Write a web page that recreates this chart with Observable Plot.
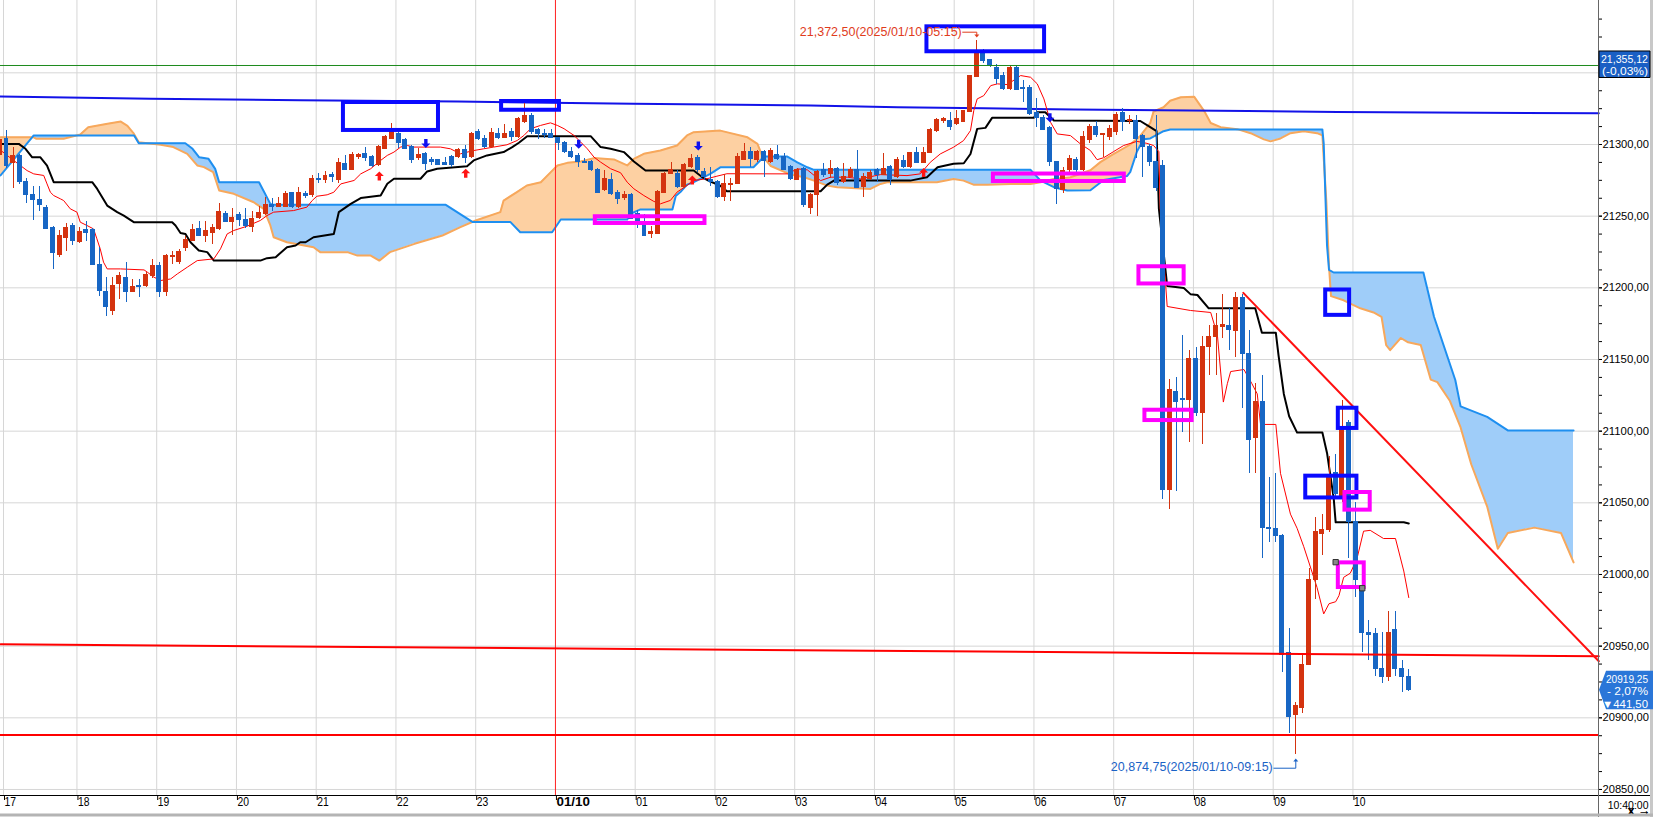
<!DOCTYPE html>
<html><head><meta charset="utf-8">
<script src="https://cdn.jsdelivr.net/npm/d3@7"></script>
<script src="https://cdn.jsdelivr.net/npm/@observablehq/plot@0.6"></script>
<style>
html,body{margin:0;padding:0;background:#fff;}
#chart{width:1653px;height:817px;overflow:hidden;}
#chart svg{display:block;overflow:visible;}
</style></head><body><div id="chart"></div>
<script>
// ---------------- DATA ----------------
// x unit = one 5-minute candle; candle k is drawn at x = k (k = 0 is the 17:00 candle of 01/09)
const hourLabels = ["17","18","19","20","21","22","23","01/10","01","02","03","04","05","06","07","08","09","10"];
const lastTimeLabel = "10:40:00";

const opens = [21293,21304,21287,21292,21274,21265,21261.5,21256,21242,21223,21234.5,21243,21232,21240,21240,21216,21197,21184,21202.5,21207,21197,21201.5,21201,21208,21215.5,21197,21221.5,21218,21227.5,21233,21241,21236,21238,21241,21251.5,21246,21250.5,21247,21242.5,21248.5,21251.5,21258,21256.5,21256.5,21266.5,21256.5,21265.5,21264.5,21276,21275,21278.5,21275.5,21286.5,21282.5,21291,21293.5,21291,21285.5,21297,21304,21307.5,21303,21298,21290.5,21293.5,21289,21289,21287,21291,21291,21296,21291,21309,21303.5,21298,21307.5,21304.5,21309,21305,21315.5,21320,21310,21307.5,21307,21304.5,21301,21295,21292,21288,21287.5,21282.5,21268,21275,21266.5,21262.5,21264.5,21251.5,21243.5,21237.5,21237.5,21266.5,21279.5,21279.5,21270.5,21284,21290.5,21281,21275.5,21274,21263.5,21271.5,21272.5,21289,21294.5,21289,21294.5,21287.5,21293,21291,21284,21275.5,21283,21256,21264.5,21282.5,21279.5,21283,21273.5,21277.5,21282.5,21270.5,21276,21282,21279,21284,21277.5,21288.5,21284,21294,21287,21294,21309.5,21316.5,21316.5,21314,21316,21323,21347,21363,21359,21353.5,21347.5,21339,21353.5,21339.5,21339.5,21322,21318.5,21311.5,21287.5,21268.5,21282,21289.5,21282.5,21303,21312.5,21306.5,21305,21308.5,21322,21316.5,21316.5,21306,21298.5,21288,21285,21059,21127.5,21122.5,21121.5,21150.5,21113,21158.5,21166,21172.5,21173.5,21170,21193,21153.5,21095.5,21120.5,21032.5,21031.5,21027,20945.5,20902,20907,20937,20996.5,21028,21031,21071,21053.5,21106,21036.5,20991,20959.5,20958.5,20934,20928.5,20961,20934,20928.5];
const highs = [21312,21310,21298,21293,21276,21271,21271,21257.5,21243,21240,21245,21245,21242,21246,21241.5,21228,21207,21207,21211,21217.5,21206,21206,21211,21219.5,21218,21223.5,21225.5,21226.5,21235.5,21244.5,21246,21246.5,21244.5,21258.5,21253,21255,21252.5,21255,21253,21256.5,21263,21262,21263,21267,21266.5,21270,21267,21278.5,21279.5,21281,21280.5,21290.5,21292.5,21294.5,21293.5,21298,21292.5,21299,21306.5,21315,21308.5,21304,21299.5,21297,21294.5,21291,21289.5,21291,21292.5,21297.5,21299,21308.5,21310.5,21306.5,21311.5,21311.5,21314,21311,21318.5,21328.5,21321.5,21311.5,21310.5,21310.5,21305,21302,21298,21293.5,21290,21289,21283,21282,21279.5,21268,21267,21265.5,21254,21251.5,21242.5,21268,21280.5,21287.5,21282,21286.5,21293,21292.5,21283,21284,21275,21279,21276,21293.5,21300.5,21298,21296,21296,21297,21299.5,21294,21285.5,21283,21284,21265.5,21282,21286.5,21289,21284,21286.5,21284,21296,21279.5,21282,21283,21293.5,21285.5,21291,21292.5,21294.5,21298,21298,21311,21318,21318.5,21322.5,21323.5,21324,21348,21372.5,21366.5,21359.5,21356,21350.5,21355,21355,21345,21341,21332,21320,21312.5,21288,21284,21292,21291,21309,21314,21316,21308,21313,21322,21325,21320,21320,21307,21300,21320,21289,21136,21137.5,21167,21156,21158.5,21166,21173.5,21182,21195.5,21185.5,21197,21195.5,21170,21133,21139,21067.5,21070.5,21028,20962.5,20911,20945,21004,21039.5,21042,21082,21083.5,21121.5,21107.5,21050.5,20991,20968,20962.5,20959.5,20974.5,20974.5,20940,20933.5];
const lows = [21288,21283,21269,21272,21259,21247,21253,21240.5,21213,21221,21225,21229.5,21231,21232,21216,21194,21180,21181,21192,21189.5,21196.5,21193.5,21200.5,21206.5,21193.5,21194,21216,21216.5,21225,21232,21236,21231.5,21230.5,21240,21245.5,21236.5,21242.5,21241.5,21238.5,21248,21250.5,21253,21256,21256,21255.5,21255.5,21262.5,21263,21272.5,21273,21273.5,21273,21282,21282,21289.5,21288,21284,21285,21296.5,21303.5,21297,21296.5,21286.5,21289,21282,21285.5,21285.5,21285.5,21284,21290.5,21287,21290.5,21303,21297,21297.5,21303.5,21304,21302,21304.5,21314.5,21307,21303.5,21304.5,21304,21296,21293.5,21290.5,21284,21286.5,21281,21265.5,21267,21264.5,21258,21261,21247.5,21241.5,21235.5,21234.5,21237,21265.5,21279,21269.5,21269.5,21283,21280.5,21275,21270.5,21262.5,21260,21260,21272,21288.5,21284,21287.5,21277,21287,21288.5,21282,21275,21275,21256,21251.5,21249.5,21277,21276,21271.5,21272.5,21277,21269.5,21263,21275,21273.5,21278.5,21271.5,21276.5,21283.5,21283.5,21286.5,21286.5,21293.5,21308.5,21314.5,21309.5,21313,21315.5,21322.5,21346.5,21356.5,21353.5,21342,21338,21338,21337.5,21329.5,21320,21312,21309.5,21285,21258,21266,21280,21280,21281,21301,21305,21291,21303,21306,21309,21314,21290,21277,21285,21267,21052,21045,21058,21099,21092,21110,21090.5,21139,21139,21164.5,21156,21151.5,21116,21070.5,21070.5,21011,21022,21022,20931.5,20889,20874.75,20903,20936.5,20982.5,21013.5,21029.5,21053.5,21050,21011,20984,20945.5,20940,20928.5,20924,20925.5,20928.5,20917.5,20918.5];
const closes = [21303,21285,21292,21274,21265,21261,21258,21241,21224.5,21236,21241.5,21233,21239,21238,21216,21197.5,21186.5,21201.5,21208.5,21197,21200.5,21200.5,21209,21215.5,21197,21222.5,21222.5,21225,21233.5,21240.5,21236,21239.5,21241.5,21253,21246,21249,21247,21243,21248,21252.5,21258,21256.5,21258.5,21265.5,21256.5,21266.5,21264,21276,21275.5,21278,21277,21287,21282.5,21293,21293,21290.5,21285,21298,21305,21311,21301,21297,21289.5,21292.5,21286.5,21287.5,21286,21286,21286,21296,21290.5,21307.5,21303.5,21298,21308,21304.5,21307.5,21305,21318,21320,21308.5,21307.5,21306.5,21304.5,21301,21294.5,21291,21287.5,21287,21282,21266.5,21276,21265.5,21262,21265,21248,21246,21236,21239,21267,21279.5,21282,21270.5,21285.5,21290,21282,21277,21274,21263.5,21272.5,21272.5,21291,21294.5,21290,21294.5,21288.5,21295.5,21290,21282.5,21276,21282,21257.5,21264.5,21280.5,21279,21283,21273,21277,21282.5,21270,21277.5,21280,21279,21283,21275.5,21289,21284,21294,21287,21294,21310,21317,21317.5,21312.5,21318,21323.5,21347.5,21365,21358,21354.5,21346,21339,21353.5,21338,21339,21321,21318.5,21310,21287.5,21269,21281.5,21290,21282.5,21305,21312,21306.5,21307,21311,21320.5,21315.5,21317,21304,21298,21288,21270,21059,21129,21120.5,21121.5,21150,21112.5,21158.5,21166,21173.5,21174,21170.5,21193,21153.5,21094,21120.5,21032.5,21031.5,21027,20944,20900.5,20908,20937,20996.5,21029.5,21031,21067.5,21056.5,21100.5,21036.5,20996.5,20959.5,20957.5,20934,20928.5,20959.5,20934,20928.5,20919.25];

// Ichimoku lines, read as [x, value] vertices
const tenkan = [[0.1,21296],[2.1,21288.8],[3.1,21285.3],[4.1,21281.8],[5.1,21279.5],[6.6,21278.4],[7.1,21272.5],[7.6,21266.7],[8.1,21264.4],[9.1,21262.1],[9.6,21260.9],[10.6,21255.1],[11.6,21252.8],[12.1,21245.8],[13.1,21243.5],[14.1,21241.1],[14.6,21234.2],[15.1,21227.2],[15.6,21217.9],[16.15,21213.2],[18.15,21213.2],[21.7,21212.5],[22.2,21210.9],[23.2,21207.4],[24.2,21205.1],[25.7,21206.2],[26.7,21209.7],[28.2,21214.4],[29.7,21219],[32.2,21220.2],[33.2,21227.2],[34.2,21237.6],[35.2,21240],[37.2,21243],[39.2,21247],[40.2,21250.4],[41.2,21252.8],[44.2,21253.9],[46.2,21256.3],[47,21260.9],[47.7,21263.9],[49.25,21264.9],[50.25,21266.7],[51.3,21272.5],[53.3,21274.9],[54.3,21279.5],[55.8,21283.1],[57.3,21288.9],[58.3,21292.4],[59.3,21294.7],[60.3,21298.2],[61.3,21299.3],[62.3,21298.2],[66.3,21298.2],[67.8,21297],[69.3,21293.5],[71.3,21295.8],[72.8,21297],[74.3,21298.2],[76.3,21299.8],[77.85,21302.8],[78.85,21306.3],[79.85,21311],[81.35,21313.3],[82.85,21315.1],[83.9,21313.3],[84.9,21311],[86.4,21306.3],[87.4,21301.7],[88.4,21297],[89.4,21291.2],[90.4,21287.7],[91.9,21283.1],[93.4,21280.3],[94.4,21273.7],[95.4,21269.1],[96.9,21264.4],[98.4,21260.3],[99.4,21258.6],[100.9,21261],[101.9,21266.8],[103.4,21271.4],[104.4,21274.9],[106.4,21276.1],[107.9,21277.9],[109.4,21279.6],[118.5,21279.5],[120,21283],[121.5,21282.3],[123.5,21274.8],[125,21277.2],[127.5,21277.2],[129.5,21276],[132.5,21279],[136.5,21278.3],[138.5,21279.5],[140,21287.6],[141.5,21293.4],[143.5,21298.1],[145,21302.7],[146.05,21309.7],[146.55,21323.7],[147.06,21331.8],[148.05,21334.1],[149.1,21341.1],[150.1,21342.3],[151.6,21341.8],[153.6,21348.1],[155.1,21346.9],[156.1,21342.3],[157.1,21331.8],[157.6,21323.7],[158.1,21315.5],[159.1,21307.4],[161.1,21306.2],[162.6,21300.4],[164.1,21295.8],[165.1,21289.4],[166.1,21290.8],[167.6,21295.1],[169.1,21299.3],[171.1,21302.2],[172.6,21300.8],[173.6,21299.3],[174.4,21295],[174.6,21255],[175.65,21187],[179.15,21184.2],[182.2,21182.8],[183.2,21167.2],[184.1,21120.3],[184.7,21133.1],[185.2,21141.6],[187.2,21143],[188.4,21133.1],[189.2,21126],[189.7,21104.7],[192,21104.7],[192.7,21070.6],[194.2,21042.1],[195.2,21032.2],[196.2,21019.4],[197.2,21005.2],[198.2,20990.9],[199.2,20972.5],[200,20979.6],[201,20981],[201.5,20985.3],[202.2,20998],[203.2,21000.9],[204.2,21010.9],[205.2,21030.2],[206.2,21030.8],[208.2,21025.1],[210,21025.1],[211.25,21002.4],[212,20983.9]];
const kijun = [[0.1,21300.4],[2.85,21300.4],[3.86,21297],[4.87,21291.1],[6.1,21291.1],[7.1,21285.3],[8.1,21273.7],[13.9,21273.7],[14.65,21269],[16.15,21257.4],[17.66,21252.8],[18.65,21250.4],[20.15,21245.8],[25.93,21245.8],[26.43,21243.5],[27.18,21238.3],[27.93,21237.6],[28.69,21231.8],[29.94,21226],[31.2,21224.9],[32.2,21219],[39.2,21219],[40.2,21220.7],[41.5,21221.4],[43.2,21228.3],[44.5,21229.5],[45.2,21231.8],[46,21231.8],[47.2,21235.3],[50.25,21237.6],[51,21252.8],[52.8,21258.6],[54.3,21262.6],[57.3,21264.4],[58.3,21272.6],[59.3,21276.1],[63.3,21276.1],[64.3,21281.2],[65.8,21283.1],[70.3,21284.9],[71.3,21288.9],[73.3,21292.4],[75.8,21294.7],[77.1,21298.2],[78.1,21301.2],[79.35,21305.8],[88.9,21305.8],[90.4,21298.2],[91.9,21297],[93.9,21294.7],[95.4,21288.2],[97.15,21281.9],[104.4,21281.9],[105.9,21276.5],[106.9,21274.2],[108.4,21271.3],[109.4,21267.4],[123.5,21267.4],[124.5,21272],[125.5,21274.8],[137,21274.8],[139.5,21277.2],[141.1,21284.1],[143.5,21286.5],[145.05,21286.9],[146.05,21293.4],[147.06,21310.9],[148.3,21311.6],[149.3,21318.6],[155.6,21318.6],[156.1,21322.5],[157.3,21322.5],[158.6,21316.7],[171.6,21316.4],[173.1,21312.1],[174.05,21309.3],[174.4,21255.3],[175.65,21201.3],[178.15,21199.9],[179.15,21195.6],[180.2,21195],[181.9,21185.7],[188.9,21185.7],[189.9,21168.6],[192,21168.6],[192.4,21153],[193.2,21126],[194,21110.4],[195.2,21099],[199,21099],[199.7,21084.8],[200.7,21053.5],[201,21036.4],[211.25,21036.4],[212,21035.6]];
const senkouA = [[0.1,21278.4],[5.1,21306.3],[20.2,21306.3],[20.9,21300.9],[27.9,21300.9],[29,21297],[30,21291.1],[31.4,21290],[32.4,21283],[33,21273.7],[39,21273.7],[40.7,21258.6],[41.2,21257.9],[67.1,21257.9],[71.1,21246],[76.8,21246],[78.3,21238.8],[83.1,21238.8],[84.4,21247.7],[94.4,21247.7],[94.9,21251.7],[96.4,21254.7],[101.2,21254.7],[101.7,21264],[102.4,21266.8],[103.4,21272],[104.4,21273.7],[105.4,21276],[106.9,21279.5],[108.4,21284.1],[113.4,21284.1],[115,21291.6],[118.5,21291.6],[120,21287.6],[121.5,21284.1],[122.5,21282.3],[155.1,21282.3],[156.6,21274.8],[158.6,21270.2],[160.6,21267.9],[164.1,21268.1],[166.1,21275.2],[169.6,21278],[170.1,21280.9],[171.1,21295.1],[172.1,21303.6],[173.1,21304.2],[175.1,21309.3],[176.1,21310.5],[199,21310.5],[199.2,21300.8],[199.7,21229.7],[200,21212.6],[200.7,21210.7],[214.2,21210.7],[215.8,21179.8],[219,21135.7],[219.8,21117.3],[223.8,21110],[226.9,21100.5],[236.8,21100.5]];
const senkouB = [[0.1,21305],[5.1,21305],[5.5,21304],[9.6,21304],[12.1,21307],[13.3,21312],[16.2,21314.5],[18.2,21316],[19.2,21313],[20.1,21308],[20.9,21301.5],[24.2,21299.8],[26.1,21298.2],[28.2,21293.5],[29.7,21285.4],[30.7,21284.2],[32.1,21280.7],[33,21267.9],[35.2,21265.6],[38.2,21259.7],[39.7,21255.1],[40.7,21243.5],[41.2,21235.3],[43.2,21231.8],[45.2,21230],[47.2,21228.3],[48.2,21224.9],[52.3,21224.9],[53.8,21222.5],[55.8,21222.5],[57.1,21219],[58.7,21224.9],[62.4,21230.7],[66.6,21236.5],[69.3,21242.3],[71.6,21247],[75.3,21252.8],[75.8,21260.9],[77.8,21266.8],[79.3,21271.4],[81.4,21273.7],[82.9,21280.7],[83.9,21285.4],[85.4,21287.2],[87.4,21288.2],[89.4,21290.5],[92.4,21289.6],[94.4,21285.4],[95.4,21290],[96.9,21293.5],[99.4,21295.8],[101.9,21299.3],[103.4,21306.3],[104.4,21308.6],[108.4,21309.7],[112.5,21305],[114,21300.4],[114.7,21292.3],[116,21285],[119,21279],[121,21277.2],[122.5,21274.8],[124.5,21271.3],[126,21270.2],[131,21269],[132.5,21272.5],[133.5,21273.7],[141,21273.7],[143.5,21276],[145,21274.8],[146.5,21272],[148.6,21272],[152.1,21272.5],[155.1,21272.5],[156.6,21273.7],[158.6,21276],[161.1,21277.2],[164.1,21282],[165.6,21287.7],[167.1,21292],[170.1,21300],[171.6,21306],[173.1,21315],[173.6,21323],[175.1,21326],[176.1,21330.5],[177.7,21333],[179.7,21333.4],[181.2,21323.5],[182.2,21315],[183.7,21312.1],[186.2,21310.7],[188.2,21307.9],[190.2,21303.6],[191.2,21302.2],[192.7,21304.2],[194.2,21307.9],[196.2,21309.3],[198.2,21307.9],[199,21306.4],[199.6,21260],[200,21215],[200.3,21194.2],[202.2,21191.3],[204.7,21185.7],[206.7,21182.8],[207.9,21179.8],[208.6,21160],[209.2,21156.5],[210.8,21165],[211.9,21162],[213.8,21160.1],[215.3,21136],[216.3,21134.2],[218.2,21121],[219.8,21102.6],[221.4,21076.9],[223.8,21047.4],[225.4,21018],[226.9,21029],[230.9,21032.7],[234.9,21029],[236.8,21008.4]];
// long-period average (dark blue)
const longAverage = [[0.1,21333.5],[22.7,21332],[45.2,21330.8],[68.9,21330],[95.3,21328.4],[122,21327.2],[135.1,21326],[148,21325.3],[161.6,21324.4],[187.7,21323.4],[201.3,21322.6],[240.6,21321.8]];

// drawn lines and levels
const prevClose = 21355.12;
const supportSloped = [[0.1,20951.3],[240.6,20943]];
const supportFlat = 20888;
const trendline = [[187.1,21196.5],[240.6,20939.5]];
const sessionStart = 83.6; // 01/10 00:00 separator

// annotation boxes [x1, x2, v1, v2]
const blueBoxes = [[51.7,66.0,21329.3,21309.8],[75.5,84.2,21330,21323.9],[139.5,157.2,21382.1,21364.7],[199.5,203.1,21198.5,21180.8],[201.4,204.2,21116,21101.9],[196.5,204.2,21068.6,21053.4]];
const magentaBoxes = [[89.6,106.1,21249.6,21244.9],[149.5,169.2,21279.4,21274.2],[171.4,178.2,21214.7,21202.7],[172.3,179.4,21114.6,21107.4],[202.4,206.2,21057.2,21044.9],[201.4,205.3,21008.1,20990.9]];
const handles = [[201,21008.6],[205,20990.4]];
// signal arrows [x, tip value]
const buySignals = [[57.1,21281.2],[70.1,21283],[104.2,21278.4],[139,21283.6]];
const sellSignals = [[64.1,21297.6],[87.1,21297],[105.1,21295.8],[158,21315.6]];

const highNote = {x: 147, v: 21372.5, text: "21,372,50(2025/01/10-05:15)"};
const lowNote = {x: 195, v: 20874.75, text: "20,874,75(2025/01/10-09:15)"};
const lastPrice = {v: 20919.25, lines: ["20919,25", "- 2,07%", "\u25BC441,50"]};
const refPrice = {v: 21355.12, lines: ["21,355,12", "(-0,03%)"]};

// ---------------- CHART ----------------
const UP = "#d4330f", DOWN = "#1766c4";
const X0 = 0.097, X1 = 240.55, YMIN = 20845.8, YMAX = 21400.47;
const candles = opens.map((o, k) => ({x: k, o, h: highs[k], l: lows[k], c: closes[k]}));
const col = d => d.c >= d.o ? UP : DOWN;
const pts = a => a.map(([x, v]) => ({x, v}));
const hourTicks = hourLabels.map((label, h) => ({x: h === 0 ? 0.55 : 12 * h - 0.4, label}));
const labelOf = new Map(hourTicks.map(d => [d.x, d.label]));
const yMajor = d3.range(20850, 21351, 50);
const yLabelled = yMajor.filter(v => v < 21340); // 21350 sits under the price tag
const yMinor = d3.range(20850, 21400, 12.5);
const FONT = '"Liberation Sans",Arial,sans-serif';

const arrowUp = {draw(c) { c.moveTo(0,-4.5); c.lineTo(4.5,0); c.lineTo(1.7,0); c.lineTo(1.7,4.5); c.lineTo(-1.7,4.5); c.lineTo(-1.7,0); c.lineTo(-4.5,0); c.closePath(); }};
const arrowDown = {draw(c) { c.moveTo(0,4.5); c.lineTo(4.5,0); c.lineTo(1.7,0); c.lineTo(1.7,-4.5); c.lineTo(-1.7,-4.5); c.lineTo(-1.7,0); c.lineTo(-4.5,0); c.closePath(); }};
const hiLink = {draw(c) { c.moveTo(-14.5,-8.4); c.lineTo(0,-8.4); c.lineTo(0,-5); }};
const hiHead = {draw(c) { c.moveTo(0,-3); c.lineTo(-2.5,-6); c.lineTo(2.5,-6); c.closePath(); }};
const loLink = {draw(c) { c.moveTo(-22.3,14.2); c.lineTo(0,14.2); c.lineTo(0,7); }};
const loHead = {draw(c) { c.moveTo(0,4.5); c.lineTo(-2.5,7.5); c.lineTo(2.5,7.5); c.closePath(); }};

const box = (data, color) => Plot.rect(data, {x1: d => d[0], x2: d => d[1], y1: d => d[2], y2: d => d[3], fill: "none", stroke: color, strokeWidth: 4});

const plot = Plot.plot({
  width: 1653, height: 817,
  marginLeft: 0, marginRight: 55, marginTop: 0, marginBottom: 22,
  x: {domain: [X0, X1], axis: null},
  y: {domain: [YMIN, YMAX], axis: null},
  style: {background: "#fff", fontFamily: FONT, fontSize: "12px", color: "#000"},
  marks: [
    Plot.ruleY(yMajor, {stroke: "#d6d6d6"}),
    Plot.ruleX(hourTicks.filter(d => d.label !== "01/10"), {x: "x", stroke: "#d6d6d6"}),
    // cloud fills: areas 0,1 become clip shapes, areas 2,3 are the coloured fills
    Plot.areaY(pts(senkouA), {x: "x", y1: "v", y2: YMAX, fill: "#000"}),
    Plot.areaY(pts(senkouB), {x: "x", y1: "v", y2: YMAX, fill: "#000"}),
    Plot.areaY(pts(senkouA), {x: "x", y1: "v", y2: YMIN, fill: "#9fcdf9"}),
    Plot.areaY(pts(senkouB), {x: "x", y1: "v", y2: YMIN, fill: "#fdd0a2"}),
    Plot.line(pts(senkouB), {x: "x", y: "v", stroke: "#f7a85c", strokeWidth: 2}),
    Plot.line(pts(senkouA), {x: "x", y: "v", stroke: "#1e8ff0", strokeWidth: 2}),
    Plot.ruleX([sessionStart], {stroke: "#ff2020"}),
    Plot.line(pts(longAverage), {x: "x", y: "v", stroke: "#1212e8", strokeWidth: 2}),
    Plot.line(pts(kijun), {x: "x", y: "v", stroke: "#000", strokeWidth: 2}),
    Plot.line(pts(tenkan), {x: "x", y: "v", stroke: "#ff0000", strokeWidth: 1}),
    // candles
    Plot.ruleX(candles, {x: "x", y1: "l", y2: "h", stroke: col, strokeWidth: 1, shapeRendering: "crispEdges"}),
    Plot.rect(candles, {x1: d => d.x - 0.3, x2: d => d.x + 0.3, y1: "o", y2: "c", fill: col, stroke: col, strokeWidth: 1, shapeRendering: "crispEdges"}),
    // levels
    Plot.ruleY([prevClose], {stroke: "#1d8a1d", strokeWidth: 1}),
    Plot.line(pts(supportSloped), {x: "x", y: "v", stroke: "#ff0000", strokeWidth: 2}),
    Plot.ruleY([supportFlat], {stroke: "#ff0000", strokeWidth: 2}),
    Plot.line(pts(trendline), {x: "x", y: "v", stroke: "#ff1010", strokeWidth: 2}),
    // annotations
    box(blueBoxes, "#0a0aff"),
    box(magentaBoxes, "#ff00ff"),
    Plot.dot(handles, {x: d => d[0], y: d => d[1], symbol: "square", r: 3, fill: "#888", stroke: "#333", strokeWidth: 1}),
    Plot.dot(buySignals, {x: d => d[0], y: d => d[1], symbol: arrowUp, dy: 4.5, fill: "#ff1414", stroke: "none"}),
    Plot.dot(sellSignals, {x: d => d[0], y: d => d[1], symbol: arrowDown, dy: -4.5, fill: "#1010f0", stroke: "none"}),
    Plot.dot([highNote], {x: "x", y: "v", symbol: hiLink, fill: "none", stroke: "#e03c1c", strokeWidth: 1}),
    Plot.dot([highNote], {x: "x", y: "v", symbol: hiHead, fill: "#e03c1c", stroke: "none"}),
    Plot.text([highNote], {x: "x", y: "v", text: "text", textAnchor: "end", dx: -15, dy: -8.4, fill: "#e03c1c", fontSize: 12.5}),
    Plot.dot([lowNote], {x: "x", y: "v", symbol: loLink, fill: "none", stroke: "#1a62c6", strokeWidth: 1}),
    Plot.dot([lowNote], {x: "x", y: "v", symbol: loHead, fill: "#1a62c6", stroke: "none"}),
    Plot.text([lowNote], {x: "x", y: "v", text: "text", textAnchor: "end", dx: -23, dy: 12.5, fill: "#1a62c6", fontSize: 12.5}),
    // axes
    Plot.axisY(yMinor, {anchor: "right", tickSize: 3, tickFormat: () => "", stroke: "#000"}),
    Plot.axisY(yLabelled, {anchor: "right", tickSize: 3, tickPadding: 1, tickFormat: d => d.toFixed(2).replace(".", ","), fontSize: 11, fill: "#000"}),
    Plot.axisX(hourTicks.filter(d => d.label !== "01/10").map(d => d.x), {tickSize: 5, tickPadding: -3, textAnchor: "start", dx: 1, tickFormat: x => labelOf.get(x), fontSize: 12.5, fill: "#000"}),
    Plot.axisX(hourTicks.filter(d => d.label === "01/10").map(d => d.x), {tickSize: 5, tickPadding: -3, textAnchor: "start", dx: 1, tickFormat: x => labelOf.get(x), fontSize: 12.5, fontWeight: "bold", fill: "#000"}),
    Plot.text([lastTimeLabel], {frameAnchor: "bottom-right", text: d => d, textAnchor: "end", lineAnchor: "top", dx: 50, dy: 6.5, fontSize: 10.5, fill: "#000"})
  ]
});

document.getElementById("chart").appendChild(plot);

// ---- post-render: cloud clipping, narrow text, frame lines and price tags ----
const svg = plot;
const NS = "http://www.w3.org/2000/svg";
const defs = document.createElementNS(NS, "defs");
svg.insertBefore(defs, svg.firstChild);
const areas = Array.from(svg.querySelectorAll('g[aria-label="area"]'));
function toClip(g, id) {
  const cp = document.createElementNS(NS, "clipPath");
  cp.setAttribute("id", id);
  g.querySelectorAll("path").forEach(p => cp.appendChild(p.cloneNode()));
  defs.appendChild(cp);
  g.remove();
}
if (areas.length >= 4) {
  toClip(areas[0], "clipAboveA");
  toClip(areas[1], "clipAboveB");
  areas[2].setAttribute("clip-path", "url(#clipAboveB)");
  areas[3].setAttribute("clip-path", "url(#clipAboveA)");
}

function squeeze(textEl, width) {
  textEl.setAttribute("textLength", width.toFixed(1));
  textEl.setAttribute("lengthAdjust", "spacingAndGlyphs");
}
// minor ticks carry no labels: drop their empty text nodes
svg.querySelectorAll('g[aria-label="y-axis tick label"] text').forEach(t => {
  if (!t.textContent.trim()) t.remove(); else squeeze(t, 46.5);
});
svg.querySelectorAll('g[aria-label="x-axis tick label"] text').forEach(t => squeeze(t, t.textContent.length > 2 ? 33.5 : 11.5));

const ys = plot.scale("y");
const layer = document.createElementNS(NS, "g");
svg.appendChild(layer);
function el(tag, attrs) {
  const e = document.createElementNS(NS, tag);
  for (const k in attrs) e.setAttribute(k, attrs[k]);
  layer.appendChild(e);
  return e;
}
// frame lines
el("line", {x1: 0, x2: 1653, y1: 795.5, y2: 795.5, stroke: "#000", "stroke-width": 1});
el("line", {x1: 1598.5, x2: 1598.5, y1: 0, y2: 817, stroke: "#666", "stroke-width": 1});
el("line", {x1: 1651.5, x2: 1651.5, y1: 0, y2: 817, stroke: "#c8c8c8", "stroke-width": 3});
el("line", {x1: 0, x2: 1653, y1: 815, y2: 815, stroke: "#b4b4b4", "stroke-width": 3});

// reference price tag
{
  const y = ys.apply(refPrice.v);
  el("path", {d: `M1599,${y - 14} H1650 V${y + 12.5} H1599 Z`, fill: "#1a5fc4", stroke: "#000", "stroke-width": 1});
  const widths = [47, 46];
  refPrice.lines.forEach((t, i) => {
    const tx = el("text", {x: 1648, y: y - 2 + i * 12.5, fill: "#fff", "font-size": 11.5, "font-family": FONT, "text-anchor": "end"});
    tx.textContent = t;
    squeeze(tx, widths[i]);
  });
}
// last price tag
{
  const y = ys.apply(lastPrice.v);
  el("path", {d: `M1599,${y} L1606,${y - 19} L1653,${y - 19} L1653,${y + 19.5} L1606,${y + 19.5} Z`, fill: "#2a76d8"});
  const widths = [42, 41, 46];
  lastPrice.lines.forEach((t, i) => {
    const tx = el("text", {x: 1648, y: y - 7 + i * 12.5, fill: "#fff", "font-size": 11, "font-family": FONT, "text-anchor": "end"});
    tx.textContent = t;
    squeeze(tx, widths[i]);
  });
}
</script>
</body></html>
